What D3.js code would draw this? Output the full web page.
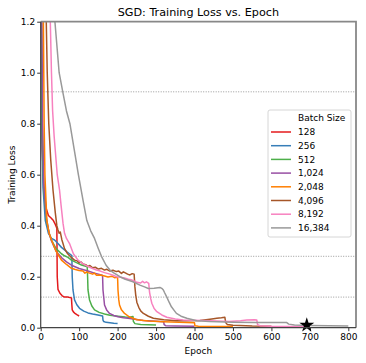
<!DOCTYPE html>
<html>
<head>
<meta charset="utf-8">
<script src="https://cdn.jsdelivr.net/npm/d3@7"></script>
<style>
  body { margin: 0; background: #fff; }
  svg { font-family: "DejaVu Sans", sans-serif; }
</style>
</head>
<body>
<svg width="366" height="363"></svg>
<script>
// batch sizes + colours (legend order)
const batchSizes = ['128', '256', '512', '1,024', '2,048', '4,096', '8,192', '16,384'];
const colors = ['#e41a1c', '#377eb8', '#4daf4a', '#984ea3', '#ff7f00', '#a65628', '#f781bf', '#999999'];

// [epoch, loss]
const loss128 = [[0,2.3],[1,1.5],[2,1.0],[4,0.7],[8,0.55],[14,0.47],[20,0.44],[27,0.43],[33,0.42],[38,0.405],[42,0.39],[43,0.2],[45,0.15],[50,0.135],[56,0.125],[62,0.12],[70,0.12],[76,0.118],[80,0.117],[81,0.09],[82,0.07],[85,0.062],[90,0.055],[95,0.05],[100,0.046]];
const loss256 = [[0,2.3],[1,1.3],[3,0.8],[6,0.55],[12,0.42],[20,0.37],[28,0.35],[36,0.344],[45,0.33],[54,0.315],[62,0.305],[70,0.295],[75,0.29],[81,0.283],[82,0.2],[84,0.148],[88,0.109],[94,0.09],[101,0.076],[112,0.065],[123,0.058],[135,0.054],[149,0.05],[158,0.047],[161,0.046],[162,0.03],[164,0.024],[170,0.021],[180,0.019],[190,0.017],[200,0.016]];
const loss512 = [[0,2.3],[2,1.2],[4,0.8],[8,0.55],[15,0.42],[22,0.37],[28,0.344],[40,0.31],[54,0.29],[62,0.282],[71,0.276],[80,0.265],[93,0.255],[106,0.246],[115,0.242],[121,0.239],[122,0.2],[123,0.148],[127,0.109],[133,0.085],[140,0.07],[152,0.06],[166,0.054],[180,0.049],[201,0.045],[220,0.042],[232,0.041],[240,0.044],[241,0.025],[245,0.016],[260,0.013],[280,0.012],[300,0.011]];
const loss1024 = [[0,2.3],[3,1.2],[5,0.8],[8,0.56],[15,0.43],[22,0.37],[28,0.34],[40,0.3],[54,0.275],[67,0.258],[80,0.245],[100,0.232],[123,0.222],[140,0.214],[160,0.206],[161,0.2],[162,0.148],[166,0.089],[172,0.068],[179,0.056],[190,0.048],[201,0.043],[215,0.039],[227,0.037],[250,0.032],[267,0.028],[290,0.026],[310,0.024],[320,0.023],[321,0.012],[325,0.008],[350,0.007],[400,0.006]];
const loss2048 = [[0,2.3],[7,1.2],[9,0.8],[11,0.6],[16,0.42],[22,0.37],[28,0.344],[40,0.3],[54,0.265],[67,0.248],[80,0.233],[90,0.228],[100,0.224],[110,0.222],[115,0.214],[120,0.219],[123,0.216],[135,0.21],[140,0.214],[145,0.206],[155,0.207],[166,0.203],[175,0.199],[185,0.202],[192,0.196],[197,0.198],[200,0.196],[201,0.148],[203,0.11],[205,0.089],[210,0.07],[218,0.056],[230,0.043],[250,0.031],[280,0.026],[320,0.023],[380,0.02],[400,0.019],[401,0.008],[410,0.006],[450,0.005],[500,0.005]];
const loss4096 = [[0,2.3],[14.5,1.2],[17,1.0],[21,0.8],[26,0.66],[32,0.54],[38,0.45],[42,0.4],[45,0.383],[48,0.37],[51,0.375],[55,0.345],[58,0.33],[62,0.31],[70,0.29],[78,0.278],[88,0.265],[95,0.262],[100,0.255],[105,0.258],[110,0.25],[117,0.247],[123,0.24],[128,0.244],[135,0.235],[142,0.237],[150,0.23],[158,0.233],[166,0.226],[172,0.229],[180,0.222],[188,0.225],[197,0.22],[203,0.222],[210,0.213],[215,0.219],[220,0.215],[226,0.21],[232,0.207],[238,0.212],[243,0.21],[245,0.16],[247,0.13],[250,0.1],[255,0.08],[260,0.066],[267,0.056],[280,0.045],[293,0.037],[320,0.031],[353,0.027],[380,0.027],[414,0.028],[430,0.031],[445,0.034],[458,0.037],[470,0.039],[479,0.041],[481,0.02],[485,0.013],[500,0.01],[550,0.007],[600,0.006]];
const loss8192 = [[0,2.3],[25,1.2],[28,1.0],[31,0.85],[35,0.75],[43,0.6],[49,0.54],[53,0.48],[58,0.41],[62,0.37],[67,0.35],[75,0.33],[85,0.29],[97,0.265],[110,0.25],[123,0.24],[135,0.232],[145,0.226],[155,0.222],[166,0.216],[180,0.21],[190,0.205],[197,0.2],[208,0.198],[218,0.195],[228,0.19],[235,0.188],[243,0.183],[250,0.178],[260,0.175],[265,0.182],[270,0.176],[275,0.18],[281,0.174],[283,0.14],[286,0.115],[289,0.096],[295,0.075],[302,0.063],[315,0.05],[328,0.041],[350,0.034],[371,0.03],[440,0.027],[490,0.024],[520,0.027],[536,0.03],[556,0.031],[562,0.03],[564,0.012],[570,0.008],[600,0.006],[650,0.005],[700,0.004]];
const loss16384 = [[0,2.3],[37,1.2],[48,1.0],[58,0.92],[67,0.85],[76,0.8],[87,0.7],[98,0.6],[110,0.5],[120,0.42],[130,0.38],[140,0.35],[150,0.31],[158,0.28],[170,0.245],[180,0.226],[190,0.215],[206,0.2],[220,0.19],[240,0.18],[258,0.167],[270,0.16],[280,0.154],[295,0.155],[310,0.158],[316,0.153],[319,0.148],[322,0.138],[328,0.12],[334,0.1],[340,0.082],[347,0.068],[353,0.056],[365,0.045],[380,0.037],[406,0.027],[440,0.024],[500,0.021],[560,0.02],[600,0.02],[640,0.02],[645,0.014],[660,0.011],[700,0.009],[750,0.008],[800,0.007]];

const series = [loss128, loss256, loss512, loss1024, loss2048, loss4096, loss8192, loss16384];

// dotted reference lines + marked point
const refLevels = [0.925, 0.28, 0.12];
const starPoint = [692, 0.01];

const xTicks = [0, 100, 200, 300, 400, 500, 600, 700, 800];
const yTicks = [0, 0.2, 0.4, 0.6, 0.8, 1.0, 1.2];

const svg = d3.select('svg');
const margin = { top: 21.7, left: 40.7 };
const innerWidth = 315.3;
const innerHeight = 306;

const xScale = d3.scaleLinear().domain([0, 820]).range([0, innerWidth]);
const yScale = d3.scaleLinear().domain([0, 1.2]).range([innerHeight, 0]);

const g = svg.append('g')
  .attr('transform', `translate(${margin.left}, ${margin.top})`);

g.append('clipPath').attr('id', 'clip')
  .append('rect').attr('width', innerWidth).attr('height', innerHeight);

// dotted lines
g.selectAll('.ref').data(refLevels)
  .enter().append('line')
    .attr('x1', 0).attr('x2', innerWidth)
    .attr('y1', d => yScale(d)).attr('y2', d => yScale(d))
    .attr('stroke', '#999').attr('stroke-width', 1)
    .attr('stroke-dasharray', '1,1.5');

const line = d3.line()
  .x(d => xScale(d[0]))
  .y(d => yScale(d[1]));

g.append('g').attr('clip-path', 'url(#clip)')
  .selectAll('path').data(series)
  .enter().append('path')
    .attr('d', line)
    .attr('fill', 'none')
    .attr('stroke', (d, i) => colors[i])
    .attr('stroke-width', 1.5)
    .attr('stroke-linejoin', 'round');

// star
g.append('path')
  .attr('d', d3.symbol().type(d3.symbolStar).size(70))
  .attr('transform', `translate(${xScale(starPoint[0])}, ${yScale(starPoint[1])})`)
  .attr('fill', '#000');

// axes
const xAxis = g.append('g')
  .attr('transform', `translate(0, ${innerHeight})`)
  .call(d3.axisBottom(xScale).tickValues(xTicks).tickSizeOuter(0).tickSize(3.5).tickPadding(2));
const yAxis = g.append('g')
  .call(d3.axisLeft(yScale).tickValues(yTicks).tickFormat(d3.format('.1f')).tickSizeOuter(0).tickSize(3.5).tickPadding(2));

[xAxis, yAxis].forEach(ax => {
  ax.select('.domain').remove();
  ax.selectAll('text').attr('font-size', 9).attr('fill', '#000').attr('font-family', '"DejaVu Sans", sans-serif');
  ax.selectAll('line').attr('stroke', '#000').attr('stroke-width', 0.8);
});

// frame: top/right lighter, left/bottom darker
g.append('path')
  .attr('d', `M0,0H${innerWidth}V${innerHeight}`)
  .attr('fill', 'none').attr('stroke', '#888').attr('stroke-width', 1.8);
g.append('path')
  .attr('d', `M0,0V${innerHeight}H${innerWidth}`)
  .attr('fill', 'none').attr('stroke', '#444').attr('stroke-width', 1.2);

// labels
svg.append('text')
  .attr('x', margin.left + innerWidth / 2).attr('y', 16)
  .attr('text-anchor', 'middle').attr('font-size', 11.2)
  .text('SGD: Training Loss vs. Epoch');

svg.append('text')
  .attr('x', margin.left + innerWidth / 2).attr('y', 354)
  .attr('text-anchor', 'middle').attr('font-size', 9)
  .text('Epoch');

svg.append('text')
  .attr('transform', `translate(15, ${margin.top + innerHeight / 2}) rotate(-90)`)
  .attr('text-anchor', 'middle').attr('font-size', 9)
  .text('Training Loss');

// legend
const legend = svg.append('g').attr('transform', 'translate(268, 110)');
legend.append('rect')
  .attr('width', 83).attr('height', 127).attr('rx', 2)
  .attr('fill', '#fff').attr('stroke', '#ccc').attr('stroke-width', 0.8);

const rowH = 13.7;
legend.append('text')
  .attr('x', 30).attr('y', 8.3).attr('dy', '0.35em')
  .attr('font-size', 9).text('Batch Size');

const rows = legend.selectAll('.row').data(batchSizes)
  .enter().append('g')
    .attr('transform', (d, i) => `translate(0, ${8.3 + rowH * (i + 1)})`);
rows.append('line')
  .attr('x1', 3).attr('x2', 23)
  .attr('stroke', (d, i) => colors[i]).attr('stroke-width', 1.5);
rows.append('text')
  .attr('x', 30).attr('dy', '0.35em')
  .attr('font-size', 9)
  .text(d => d);
</script>
</body>
</html>
